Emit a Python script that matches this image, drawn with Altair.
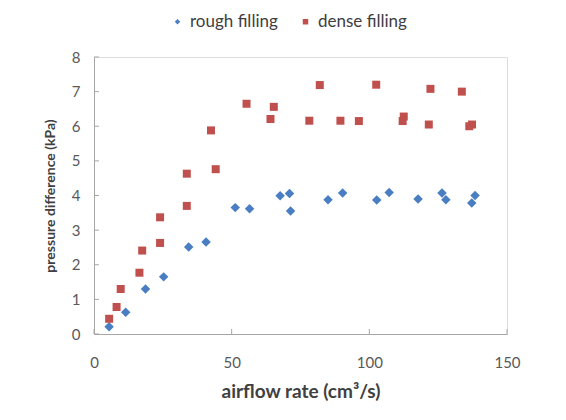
import altair as alt
import pandas as pd

rough_x = [5.5, 11.5, 18.7, 25.3, 34.4, 40.7, 51.3, 56.5, 67.6, 71.0, 71.4, 85.0, 90.3,
           102.7, 107.2, 117.7, 126.4, 127.8, 137.2, 138.4]
rough_y = [0.21, 0.63, 1.30, 1.65, 2.51, 2.66, 3.65, 3.62, 3.99, 4.06, 3.55, 3.88, 4.07,
           3.87, 4.09, 3.90, 4.07, 3.88, 3.78, 4.00]

dense_x = [5.5, 8.2, 9.7, 16.5, 17.5, 24.0, 24.0, 33.7, 33.7, 42.5, 44.2, 55.4, 64.1, 65.3,
           78.2, 82.0, 89.5, 96.2, 102.5, 112.1, 112.5, 121.6, 122.2, 133.6, 136.3, 137.3]
dense_y = [0.44, 0.78, 1.30, 1.77, 2.41, 2.63, 3.37, 3.70, 4.63, 5.88, 4.76, 6.65, 6.21, 6.56,
           6.16, 7.19, 6.16, 6.15, 7.20, 6.15, 6.28, 6.05, 7.08, 7.00, 6.00, 6.05]

series = ["rough filling", "dense filling"]
colors = ["#4A7EC2", "#C0504D"]
shapes = ["diamond", "square"]

x_ticks = [0, 50, 100, 150]
y_ticks = [0, 1, 2, 3, 4, 5, 6, 7, 8]

rough_df = pd.DataFrame({"x": rough_x, "y": rough_y, "s": series[0]})
dense_df = pd.DataFrame({"x": dense_x, "y": dense_y, "s": series[1]})

FONT = "Lato"
W, H = 413, 277

xs = alt.Scale(domain=[0, 150], nice=False)
ys = alt.Scale(domain=[0, 8], nice=False)

xaxis = alt.Axis(
    values=x_ticks, title="airflow rate  (cm³/s)", grid=False, ticks=False,
    domainColor="#a6a6a6", labelPadding=21, titlePadding=12,
    labelFontSize=15, labelColor="#595959", titleFontSize=19,
    labelFlush=False, labelOverlap=False,
    titleFontWeight="bold", titleColor="#404040", labelFont=FONT, titleFont=FONT)
yaxis = alt.Axis(
    values=y_ticks, title="pressure difference (kPa)", grid=False, ticks=False,
    domainColor="#a6a6a6", labelPadding=14, titlePadding=14,
    labelFontSize=15, labelColor="#595959", titleFontSize=14,
    labelFlush=False, labelOverlap=False,
    titleFontWeight="bold", titleColor="#404040", labelFont=FONT, titleFont=FONT)

legend = alt.Legend(title=None, orient="none", direction="horizontal",
                    legendX=75, legendY=-44, labelFontSize=17,
                    labelFont=FONT, labelColor="#404040",
                    symbolSize=30, columnPadding=19, labelOffset=4)


def pts(data, size):
    return alt.Chart(data).mark_point(filled=True, opacity=1, size=size).encode(
        x=alt.X("x:Q", scale=xs, axis=xaxis),
        y=alt.Y("y:Q", scale=ys, axis=yaxis),
        color=alt.Color("s:N", scale=alt.Scale(domain=series, range=colors), legend=legend),
        shape=alt.Shape("s:N", scale=alt.Scale(domain=series, range=shapes), legend=legend),
    )


xt = alt.Chart(pd.DataFrame({"t": x_ticks})).mark_rule(color="#a6a6a6").encode(
    x=alt.X("t:Q", scale=xs, axis=xaxis), y=alt.value(H), y2=alt.value(H - 5))
yt = alt.Chart(pd.DataFrame({"t": y_ticks})).mark_rule(color="#a6a6a6").encode(
    y=alt.Y("t:Q", scale=ys, axis=yaxis), x=alt.value(0), x2=alt.value(5))

chart = alt.layer(pts(rough_df, 90), pts(dense_df, 64), xt, yt).properties(
    width=W, height=H,
    autosize=alt.AutoSizeParams(type="none"),
    padding={"left": 86, "top": 49, "right": 40, "bottom": 70},
).configure_view(stroke=None).configure(background="white")

chart.save("out.html", embed_options={"renderer": "svg", "actions": False})
